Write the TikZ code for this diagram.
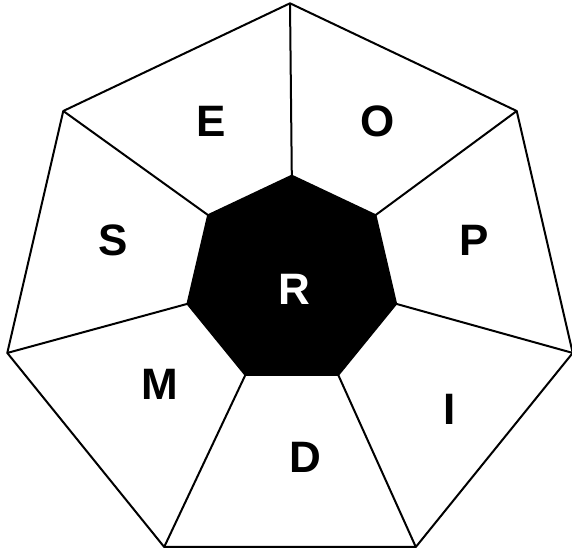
\documentclass[tikz,border=0pt]{standalone}
\usepackage{fontspec}
\setmainfont{Liberation Sans}
\begin{document}
\begin{tikzpicture}[x=1pt, y=-1pt,
      edge/.style={line width=2pt, line join=round},
      core/.style={fill=black},
      lbl/.style={font=\fontsize{44}{44}\selectfont\bfseries, inner sep=0pt}]
    \useasboundingbox (0,0) rectangle (572,552);
    % corners of the outer and inner heptagons
    \foreach \k in {0,...,6} {
      \pgfmathsetmacro{\a}{-90+\k*360/7}
      \coordinate (o\k) at ({290+290*cos(\a)},{289.3+286*sin(\a)});
      \coordinate (i\k) at ({291.8+107*cos(\a)},{280.5+104.8*sin(\a)});
    }
    \draw[edge] (o0) -- (o1) -- (o2) -- (o3) -- (o4) -- (o5) -- (o6) -- cycle;
    \foreach \k in {0,...,6} \draw[edge] (i\k) -- (o\k);
    \draw[edge, core] (i0) -- (i1) -- (i2) -- (i3) -- (i4) -- (i5) -- (i6) -- cycle;
    \node[lbl, text=white] (r) at (294,289) {R};
    \node[lbl] (e) at (210.7,121) {E};
    \node[lbl] (o) at (378,121) {O};
    \node[lbl] (p) at (474,240.5) {P};
    \node[lbl] (i) at (450,409) {I};
    \node[lbl] (d) at (305,457.5) {D};
    \node[lbl] (m) at (160.3,384.5) {M};
    \node[lbl] (s) at (113.5,240.5) {S};
  \end{tikzpicture}
\end{document}
